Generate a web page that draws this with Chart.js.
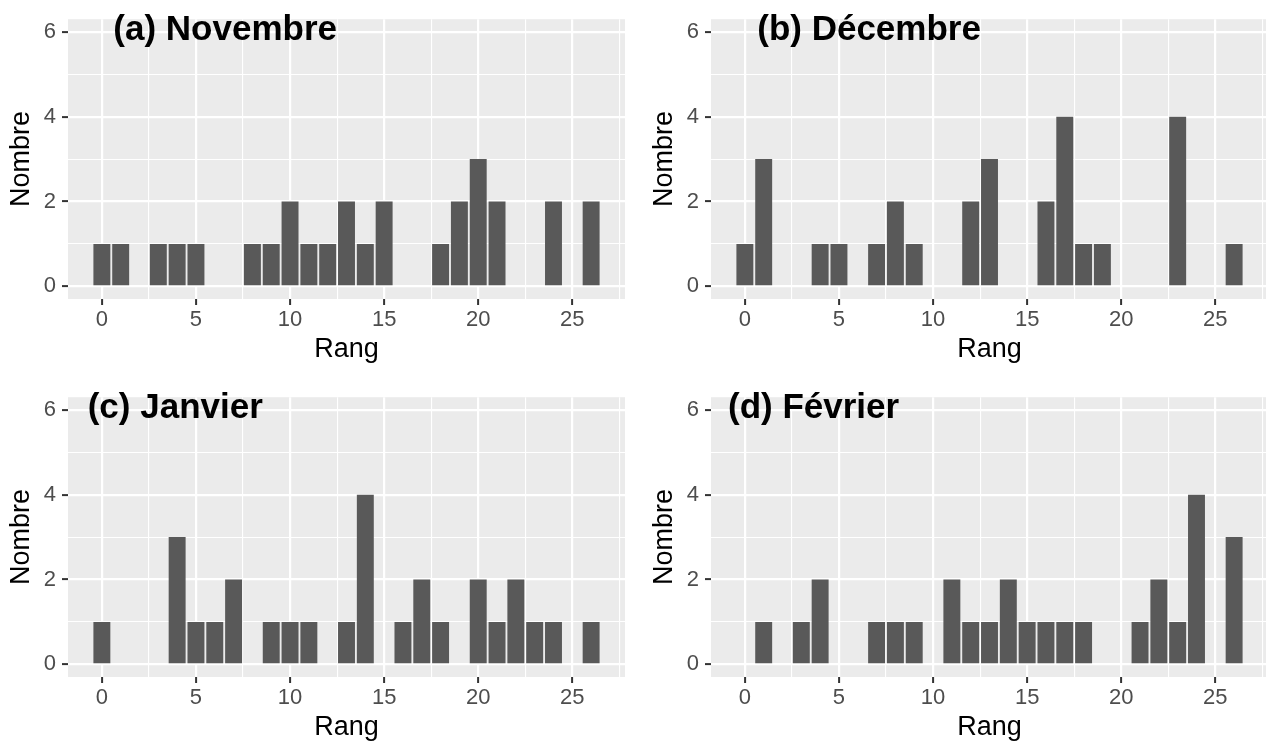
<!DOCTYPE html>
<html>
<head>
<meta charset="utf-8">
<script src="https://cdn.jsdelivr.net/npm/chart.js@4.4.0/dist/chart.umd.min.js"></script>
<style>
  html, body { margin: 0; padding: 0; background: #ffffff; overflow: hidden; }
  body { width: 1266px; height: 744px; position: relative; }
  .panel { position: absolute; }
</style>
</head>
<body>
<div class="panel" style="left:0px;top:0px"><canvas id="chartNov" width="633" height="366"></canvas></div>
<div class="panel" style="left:643px;top:0px"><canvas id="chartDec" width="633" height="366"></canvas></div>
<div class="panel" style="left:0px;top:378px"><canvas id="chartJan" width="633" height="366"></canvas></div>
<div class="panel" style="left:643px;top:378px"><canvas id="chartFev" width="633" height="366"></canvas></div>
<script>
// Data (rank -> count)
const rangNov = [0, 1, 3, 4, 5, 8, 9, 10, 11, 12, 13, 14, 15, 18, 19, 20, 21, 24, 26];
const nombreNov = [1, 1, 1, 1, 1, 1, 1, 2, 1, 1, 2, 1, 2, 1, 2, 3, 2, 2, 2];

const rangDec = [0, 1, 4, 5, 7, 8, 9, 12, 13, 16, 17, 18, 19, 23, 26];
const nombreDec = [1, 3, 1, 1, 1, 2, 1, 2, 3, 2, 4, 1, 1, 4, 1];

const rangJan = [0, 4, 5, 6, 7, 9, 10, 11, 13, 14, 16, 17, 18, 20, 21, 22, 23, 24, 26];
const nombreJan = [1, 3, 1, 1, 2, 1, 1, 1, 1, 4, 1, 2, 1, 2, 1, 2, 1, 1, 1];

const rangFev = [1, 3, 4, 7, 8, 9, 11, 12, 13, 14, 15, 16, 17, 18, 21, 22, 23, 24, 26];
const nombreFev = [1, 1, 2, 1, 1, 1, 2, 1, 1, 2, 1, 1, 1, 1, 1, 2, 1, 4, 3];

// Panel titles and where they sit on the rank axis
const panelTitles = ['(a) Novembre', '(b) Décembre', '(c) Janvier', '(d) Février'];
const titleCentres = [6.55, 6.6, 3.9, 3.65];

// Tick values (major get labels, minor only get a thin grid line)
const xMajor = [0, 5, 10, 15, 20, 25];
const xMinor = [2.5, 7.5, 12.5, 17.5, 22.5, 27.5];
const yMajor = [0, 2, 4, 6];
const yMinor = [1, 3, 5];

Chart.defaults.font.family = '"Liberation Sans", Arial, sans-serif';

// Grey panel background behind the grid
const panelBackground = {
  id: 'panelBackground',
  beforeDraw(chart) {
    const { ctx, chartArea } = chart;
    ctx.save();
    ctx.fillStyle = '#EBEBEB';
    ctx.fillRect(chartArea.left, chartArea.top, chartArea.right - chartArea.left, chartArea.bottom - chartArea.top);
    ctx.restore();
  }
};

// Bold title written inside the panel at y = 6
const panelTitle = {
  id: 'panelTitle',
  afterDatasetsDraw(chart, args, opts) {
    const { ctx, scales } = chart;
    ctx.save();
    ctx.font = 'bold 35px "Liberation Sans", Arial, sans-serif';
    ctx.fillStyle = '#000000';
    ctx.textAlign = 'center';
    ctx.textBaseline = 'middle';
    ctx.fillText(opts.text, scales.x.getPixelForValue(opts.x), scales.y.getPixelForValue(6) - 2);
    ctx.restore();
  }
};

function toTicks(values) {
  return values.slice().sort((a, b) => a - b).map(v => ({ value: v }));
}

// Function to draw one histogram panel
function makePanel(id, ranks, counts, title, titleX) {
  const ctx = document.getElementById(id).getContext('2d');
  return new Chart(ctx, {
    type: 'bar',
    data: {
      datasets: [{
        data: ranks.map((r, i) => ({ x: r, y: counts[i] })),
        backgroundColor: '#595959',
        borderWidth: 0,
        barPercentage: 0.9,
        categoryPercentage: 1.0
      }]
    },
    options: {
      responsive: false,
      animation: false,
      layout: { padding: { top: 15, right: 8, bottom: 0, left: 0 } },
      plugins: {
        legend: { display: false },
        tooltip: { enabled: false },
        panelTitle: { text: title, x: titleX }
      },
      scales: {
        x: {
          type: 'linear',
          min: -1.8,
          max: 27.8,
          offset: false,
          afterBuildTicks: axis => { axis.ticks = toTicks(xMajor.concat(xMinor)); },
          afterFit: axis => { axis.height = 67; },
          border: { display: false },
          grid: {
            offset: false,
            color: '#FFFFFF',
            lineWidth: c => xMajor.includes(c.tick.value) ? 2.2 : 1.1,
            tickColor: c => xMajor.includes(c.tick.value) ? '#333333' : 'rgba(0,0,0,0)',
            tickWidth: 2,
            tickLength: 6
          },
          ticks: {
            autoSkip: false,
            maxRotation: 0,
            padding: 2,
            color: '#4D4D4D',
            font: { size: 22 },
            callback: v => xMajor.includes(v) ? String(v) : ''
          },
          title: {
            display: true,
            text: 'Rang',
            color: '#000000',
            font: { size: 27 },
            padding: { top: 0, bottom: 0 }
          }
        },
        y: {
          min: -0.3,
          max: 6.3,
          afterBuildTicks: axis => { axis.ticks = toTicks(yMajor.concat(yMinor)); },
          afterFit: axis => { axis.width = 68; },
          border: { display: false },
          grid: {
            color: '#FFFFFF',
            lineWidth: c => yMajor.includes(c.tick.value) ? 2.2 : 1.1,
            tickColor: c => yMajor.includes(c.tick.value) ? '#333333' : 'rgba(0,0,0,0)',
            tickWidth: 2,
            tickLength: 6
          },
          ticks: {
            autoSkip: false,
            padding: 6,
            color: '#4D4D4D',
            font: { size: 22 },
            callback: v => yMajor.includes(v) ? String(v) : ''
          },
          title: {
            display: true,
            text: 'Nombre',
            color: '#000000',
            font: { size: 27 },
            padding: { top: 5, bottom: 0 }
          }
        }
      }
    },
    plugins: [panelBackground, panelTitle]
  });
}

makePanel('chartNov', rangNov, nombreNov, panelTitles[0], titleCentres[0]);
makePanel('chartDec', rangDec, nombreDec, panelTitles[1], titleCentres[1]);
makePanel('chartJan', rangJan, nombreJan, panelTitles[2], titleCentres[2]);
makePanel('chartFev', rangFev, nombreFev, panelTitles[3], titleCentres[3]);
</script>
</body>
</html>
